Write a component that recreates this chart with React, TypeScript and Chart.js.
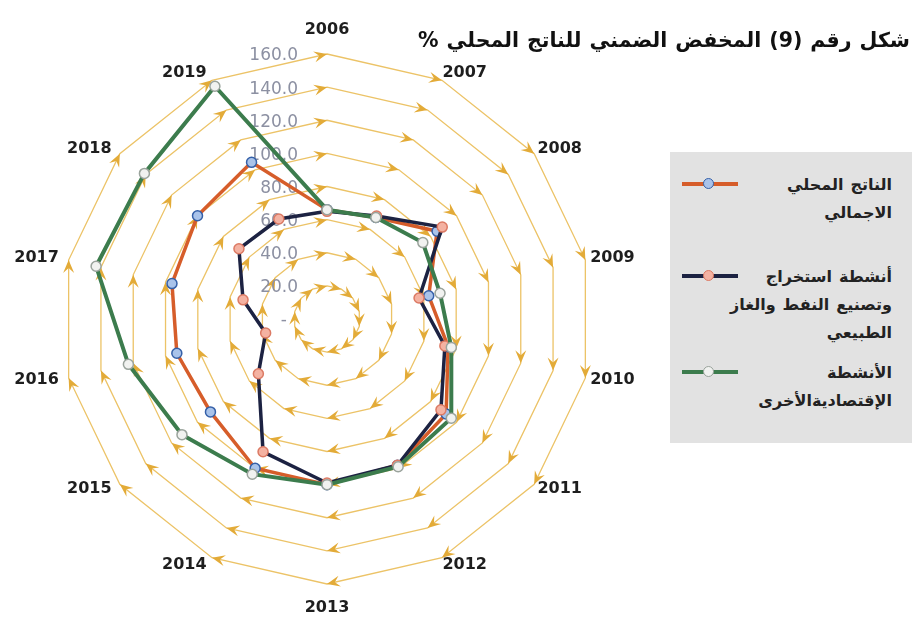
import React, { useEffect, useRef } from 'react';
import { Chart, registerables } from 'chart.js';

Chart.register(...registerables);

// Categories (clockwise from the top)
const years = ['2006', '2007', '2008', '2009', '2010', '2011', '2012', '2013', '2014', '2015', '2016', '2017', '2018', '2019'];

// Implicit GDP deflator (%)
const gdp = [66, 68, 85, 63, 75, 92, 98, 100, 100, 90, 93, 96, 100, 105];
const oilGas = [65, 69, 89, 57, 73, 88, 98, 99, 89, 53, 38, 52, 68, 67];
const otherActivities = [66, 68, 74, 70, 77, 96, 99, 100, 104, 112, 123, 143, 141, 156];

// Radial axis
const scaleMin = 0;
const scaleMax = 160;
const scaleStep = 20;

const titleText = 'شكل رقم (9) المخفض الضمني للناتج المحلي %';

const gdpLines = ['الناتج المحلي', 'الاجمالي'];
const oilGasLines = ['أنشطة استخراج', 'وتصنيع النفط والغاز', 'الطبيعي'];
const otherLines = ['الأنشطة', 'الإقتصاديةالأخرى'];

const GDP_STYLE = { line: '#d65d2a', fill: '#a9c3ea', border: '#3560a8' };
const OIL_STYLE = { line: '#1c2242', fill: '#f4b2a2', border: '#dc7a64' };
const OTHER_STYLE = { line: '#3c7c4d', fill: '#f1f2f0', border: '#9aa39c' };

const GRID_COLOR = '#ecc367';
const ARROW_COLOR = '#e3ab38';

const radarDecor = {
  id: 'radarDecor',
  beforeDatasetsDraw(chart: any) {
    const scale = chart.scales.r;
    const ctx = chart.ctx as CanvasRenderingContext2D;
    const labels = chart.data.labels as string[];
    const n = labels.length;
    ctx.save();

    // arrowheads at every ring vertex, pointing clockwise
    const L = 13;
    const W = 5.5;
    ctx.fillStyle = ARROW_COLOR;
    scale.ticks.forEach((t: any) => {
      if (t.value <= 0) return;
      const r = scale.getDistanceFromCenterForValue(t.value);
      for (let i = 0; i < n; i++) {
        const prev = scale.getPointPosition((i - 1 + n) % n, r);
        const cur = scale.getPointPosition(i, r);
        const a = Math.atan2(cur.y - prev.y, cur.x - prev.x);
        ctx.save();
        ctx.translate(cur.x, cur.y);
        ctx.rotate(a);
        ctx.beginPath();
        ctx.moveTo(0, 0);
        ctx.lineTo(-L, -W);
        ctx.lineTo(-L * 0.62, 0);
        ctx.lineTo(-L, W);
        ctx.closePath();
        ctx.fill();
        ctx.restore();
      }
    });

    // value labels beside the first axis
    ctx.font = '17px "DejaVu Sans"';
    ctx.fillStyle = '#8c90a2';
    ctx.textAlign = 'right';
    ctx.textBaseline = 'middle';
    scale.ticks.forEach((t: any) => {
      const r = scale.getDistanceFromCenterForValue(t.value);
      const p = scale.getPointPosition(0, r);
      const txt = t.value === 0 ? '-' : t.value.toFixed(1);
      ctx.fillText(txt, p.x - (t.value === 0 ? 40 : 29), p.y + 2);
    });

    // category labels around the outer ring
    const R = scale.drawingArea;
    ctx.font = 'bold 16px "DejaVu Sans"';
    ctx.fillStyle = '#1e1e1e';
    for (let i = 0; i < n; i++) {
      const ang = (i / n) * Math.PI * 2;
      const s = Math.sin(ang);
      if (Math.abs(s) < 0.01) {
        const p = scale.getPointPosition(i, R + 24);
        ctx.textAlign = 'center';
        ctx.fillText(labels[i], p.x, p.y);
      } else {
        const p = scale.getPointPosition(i, R + 8);
        ctx.textAlign = s > 0 ? 'left' : 'right';
        ctx.fillText(labels[i], p.x + (s > 0 ? -3 : -2), p.y);
      }
    }
    ctx.restore();
  },
};

// Words laid out one by one, first word on the left
function Words({ text }: { text: string }) {
  const words = text.split(' ').reverse();
  return (
    <>
      {words.map((w, i) => (
        <span key={i} style={{ display: 'inline-block' }}>{w}</span>
      ))}
    </>
  );
}

function LegendItem({ lines, style, top }: { lines: string[]; style: any; top: number }) {
  return (
    <div style={{ position: 'absolute', left: 0, top, width: 242 }}>
      <div style={{ position: 'absolute', left: 12, top: 11, width: 56, height: 4, background: style.line }} />
      <div
        style={{
          position: 'absolute',
          left: 33,
          top: 7,
          width: 9,
          height: 9,
          borderRadius: '50%',
          background: style.fill,
          border: `1.5px solid ${style.border}`,
        }}
      />
      <div style={{ position: 'absolute', right: 20, top: 0 }}>
        {lines.map((ln, i) => (
          <div
            key={i}
            style={{
              display: 'flex',
              justifyContent: 'flex-end',
              gap: 7,
              height: 28,
              lineHeight: '28px',
              whiteSpace: 'nowrap',
            }}
          >
            <Words text={ln} />
          </div>
        ))}
      </div>
    </div>
  );
}

export default function App() {
  const canvasRef = useRef<HTMLCanvasElement | null>(null);

  useEffect(() => {
    if (!canvasRef.current) return;
    const mk = (label: string, data: number[], st: any, order: number, width: number) => ({
      label,
      data,
      order,
      borderColor: st.line,
      borderWidth: width,
      backgroundColor: 'transparent',
      fill: false,
      pointRadius: 5,
      pointBorderWidth: 1.5,
      pointBackgroundColor: st.fill,
      pointBorderColor: st.border,
      tension: 0,
    });
    const chart = new Chart(canvasRef.current, {
      type: 'radar',
      data: {
        labels: years,
        datasets: [
          mk(gdpLines.join(' '), gdp, GDP_STYLE, 2, 3.5),
          mk(oilGasLines.join(' '), oilGas, OIL_STYLE, 1, 3.5),
          mk(otherLines.join(' '), otherActivities, OTHER_STYLE, 0, 4),
        ],
      },
      options: {
        responsive: false,
        animation: false,
        layout: { padding: { left: 62, right: 322, top: 54, bottom: 37 } },
        plugins: { legend: { display: false }, tooltip: { enabled: false } },
        scales: {
          r: {
            min: scaleMin,
            max: scaleMax,
            ticks: { stepSize: scaleStep, display: false },
            grid: { color: GRID_COLOR, lineWidth: 1.3, circular: false },
            angleLines: { display: false },
            pointLabels: { display: false },
          },
        },
      },
      plugins: [radarDecor],
    });
    return () => chart.destroy();
  }, []);

  return (
    <div
      style={{
        position: 'absolute',
        left: 0,
        top: 0,
        width: 914,
        height: 621,
        background: '#ffffff',
        overflow: 'hidden',
        fontFamily: '"DejaVu Sans", sans-serif',
      }}
    >
      <canvas ref={canvasRef} width={914} height={621} style={{ position: 'absolute', left: 0, top: 0 }} />
      <div
        style={{
          position: 'absolute',
          right: 4,
          top: 28,
          display: 'flex',
          gap: 8,
          fontWeight: 'bold',
          fontSize: 20.5,
          color: '#111',
          whiteSpace: 'nowrap',
        }}
      >
        <Words text={titleText} />
      </div>
      <div
        style={{
          position: 'absolute',
          left: 670,
          top: 152,
          width: 242,
          height: 291,
          background: '#e2e2e2',
          fontWeight: 'bold',
          fontSize: 16,
          color: '#222',
        }}
      >
        <LegendItem lines={gdpLines} style={GDP_STYLE} top={19} />
        <LegendItem lines={oilGasLines} style={OIL_STYLE} top={111} />
        <LegendItem lines={otherLines} style={OTHER_STYLE} top={207} />
      </div>
    </div>
  );
}
